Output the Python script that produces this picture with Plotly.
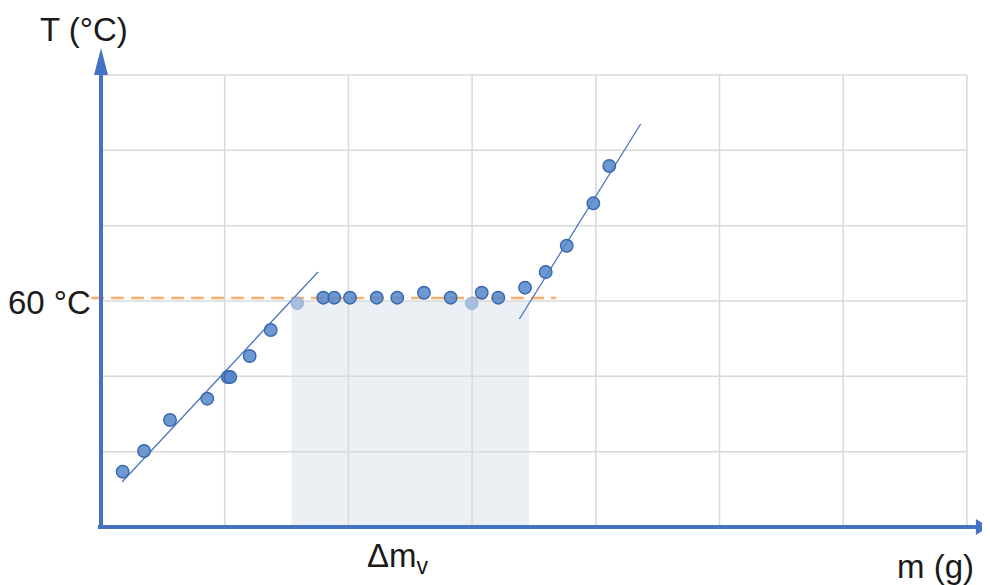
import plotly.graph_objects as go

# ---- data (grid units: 1 unit = one grid cell) ----
heat_m = [0.175, 0.348, 0.558, 0.859, 1.025, 1.045, 1.202, 1.372]
heat_T = [0.734, 1.009, 1.420, 1.703, 1.991, 1.991, 2.270, 2.615]

plateau_m = [1.797, 1.886, 2.013, 2.229, 2.395, 2.611, 2.827, 3.078, 3.212, 3.428]
plateau_T = [3.044, 3.044, 3.044, 3.044, 3.044, 3.110, 3.044, 3.110, 3.044, 3.177]

faded_m = [1.587, 2.997]
faded_T = [2.970, 2.970]

vapour_m = [3.595, 3.765, 3.980, 4.109]
vapour_T = [3.385, 3.734, 4.297, 4.792]

fit1_m = [0.170, 1.754]
fit1_T = [0.597, 3.385]
fit2_m = [3.382, 4.363]
fit2_T = [2.761, 5.350]

boil_T = 3.04
boil_m = [-0.08, 3.68]
shade_m = [1.540, 3.460]
shade_T = [0.0, 3.0]

grid_x = [1, 2, 3, 4, 5, 6, 7]
grid_y = [1, 2, 3, 4, 5, 6]
x_max = 7
y_max = 6

AXIS = "#4472C4"
GRID = "#D9D9D9"
FONT = "Liberation Sans, Arial, sans-serif"

# page body has an 8px margin: figure is sized to fill the rest of the window
OFF = 8
W, H = 990 - OFF, 585 - OFF

fig = go.Figure()

marker = dict(size=12.5, color="rgba(84,134,202,0.85)",
              line=dict(color="#3866AE", width=1.4))

fig.add_trace(go.Scatter(x=boil_m, y=[boil_T, boil_T], mode="lines",
                         line=dict(color="#F8B070", width=2.5, dash="13px,7px"),
                         hoverinfo="skip", showlegend=False))
fig.add_trace(go.Scatter(x=fit1_m, y=fit1_T, mode="lines",
                         line=dict(color="#4A76BD", width=1.3), showlegend=False))
fig.add_trace(go.Scatter(x=fit2_m, y=fit2_T, mode="lines",
                         line=dict(color="#4A76BD", width=1.3), showlegend=False))
fig.add_trace(go.Scatter(x=heat_m, y=heat_T, mode="markers", marker=marker, showlegend=False))
fig.add_trace(go.Scatter(x=plateau_m, y=plateau_T, mode="markers", marker=marker, showlegend=False))
fig.add_trace(go.Scatter(x=vapour_m, y=vapour_T, mode="markers", marker=marker, showlegend=False))
fig.add_trace(go.Scatter(x=faded_m, y=faded_T, mode="markers",
                         marker=dict(size=12.5, color="rgba(160,185,220,0.9)",
                                     line=dict(color="rgba(140,170,212,0.9)", width=1)),
                         showlegend=False))

shapes = []
# shaded region
shapes.append(dict(type="rect", xref="x", yref="y", x0=shade_m[0], x1=shade_m[1],
                   y0=shade_T[0], y1=shade_T[1], fillcolor="rgb(235,240,245)",
                   line=dict(width=0), layer="below"))
# grid
for gx in grid_x:
    shapes.append(dict(type="line", xref="x", yref="y", x0=gx, x1=gx, y0=0, y1=y_max,
                       line=dict(color=GRID, width=1.5), layer="below"))
for gy in grid_y:
    shapes.append(dict(type="line", xref="x", yref="y", x0=0, x1=x_max, y0=gy, y1=gy,
                       line=dict(color=GRID, width=1.5), layer="below"))
# axes lines
shapes.append(dict(type="line", xref="x", yref="y", x0=0, x1=0, y0=-0.02, y1=6.12,
                   line=dict(color=AXIS, width=4), layer="above"))
shapes.append(dict(type="line", xref="x", yref="y", x0=-0.025, x1=7.1, y0=0, y1=0,
                   line=dict(color=AXIS, width=4), layer="above"))
# arrow heads (pixel sized, anchored at axis ends)
shapes.append(dict(type="path", xref="x", yref="y", xsizemode="pixel", ysizemode="pixel",
                   xanchor=0, yanchor=6.0, path="M -7 0 L 7 0 L 0 27 Z",
                   fillcolor=AXIS, line=dict(width=0), layer="above"))
shapes.append(dict(type="path", xref="x", yref="y", xsizemode="pixel", ysizemode="pixel",
                   xanchor=x_max, yanchor=0, path="M 9 -8 L 9 8 L 22 0 Z",
                   fillcolor=AXIS, line=dict(width=0), layer="above"))


def ann(text, px, py, size=33):
    return dict(text=text, x=(px - OFF) / W, y=1 - (py - OFF) / H,
                xref="paper", yref="paper",
                showarrow=False, xanchor="center", yanchor="middle",
                font=dict(family=FONT, size=size, color="#1a1a1a"))


annotations = [
    ann("T (°C)", 84, 29),
    ann("60 °C", 49, 302),
    ann("Δm<sub>v</sub>", 398, 558),
    ann("m (g)", 935, 566),
]

# axis ranges chosen so 1 grid unit = 123.7 px horizontally and 75.33 px vertically
fig.update_layout(
    width=W, height=H,
    margin=dict(l=0, r=0, t=0, b=0),
    paper_bgcolor="white", plot_bgcolor="white",
    xaxis=dict(range=[-0.7518, 7.1868], visible=False, fixedrange=True),
    yaxis=dict(range=[-0.770, 6.8897], visible=False, fixedrange=True),
    shapes=shapes, annotations=annotations,
    showlegend=False,
)

fig.write_html("out.html")
